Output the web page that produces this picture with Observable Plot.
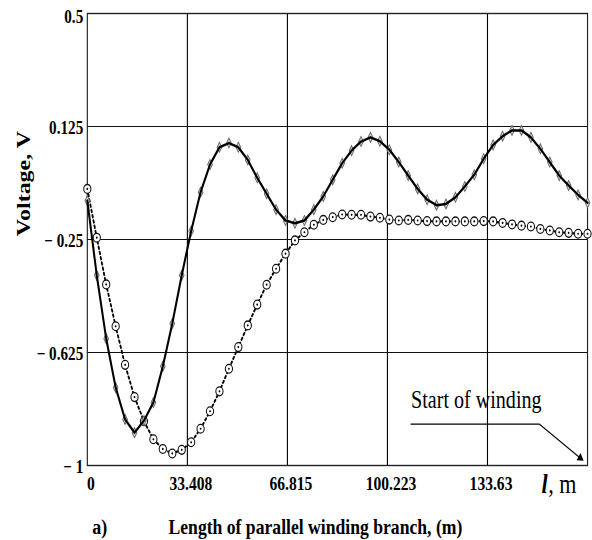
<!DOCTYPE html>
<html><head><meta charset="utf-8">
<script src="https://cdn.jsdelivr.net/npm/d3@7"></script>
<script src="https://cdn.jsdelivr.net/npm/@observablehq/plot@0.6"></script>
<style>
html,body{margin:0;padding:0;background:#fff;overflow:hidden}
#chart{width:592px;height:540px;overflow:hidden}
#chart svg{transform:scaleX(0.82) !important;transform-origin:0 0 !important;display:block;max-width:none !important;width:722px !important;height:540px !important}
</style></head><body><div id="chart"></div>
<script>
// sample positions along the branch (m)
const xs = [0, 3.15, 6.30, 9.46, 12.61, 15.76, 18.91, 22.06, 25.21, 28.37, 31.52, 34.67, 37.82, 40.97, 44.12, 47.28, 50.43, 53.58, 56.73, 59.88, 63.03, 66.19, 69.34, 72.49, 75.64, 78.79, 81.94, 85.10, 88.25, 91.40, 94.55, 97.70, 100.85, 104.01, 107.16, 110.31, 113.46, 116.61, 119.76, 122.92, 126.07, 129.22, 132.37, 135.52, 138.68, 141.83, 144.98, 148.13, 151.28, 154.43, 157.59, 160.74, 163.89, 167.04];
// solid curve with diamonds
const solidV = [-0.121, -0.369, -0.579, -0.741, -0.847, -0.891, -0.851, -0.791, -0.671, -0.529, -0.369, -0.222, -0.093, -0.001, 0.056, 0.070, 0.056, 0.014, -0.045, -0.098, -0.151, -0.187, -0.196, -0.187, -0.151, -0.107, -0.052, 0.003, 0.045, 0.075, 0.089, 0.076, 0.048, 0.007, -0.038, -0.082, -0.118, -0.136, -0.132, -0.110, -0.074, -0.035, 0.018, 0.064, 0.093, 0.112, 0.112, 0.089, 0.051, 0.007, -0.038, -0.071, -0.102, -0.128];
// dotted curve with circles
const dottedV = [-0.082, -0.244, -0.399, -0.538, -0.666, -0.773, -0.853, -0.913, -0.945, -0.960, -0.948, -0.923, -0.878, -0.820, -0.754, -0.679, -0.607, -0.535, -0.466, -0.400, -0.347, -0.297, -0.253, -0.226, -0.201, -0.185, -0.176, -0.167, -0.168, -0.168, -0.174, -0.178, -0.184, -0.187, -0.185, -0.187, -0.189, -0.190, -0.190, -0.190, -0.190, -0.190, -0.189, -0.190, -0.195, -0.200, -0.204, -0.207, -0.215, -0.220, -0.226, -0.228, -0.231, -0.231];

const xDomain = [0, 167.04];
const yDomain = [-1, 0.5];
const xTicks = [0, 33.408, 66.815, 100.223, 133.63];
const xTickLabels = ["0", "33.408", "66.815", "100.223", "133.63"];
const yTicks = [0.5, 0.125, -0.25, -0.625, -1];
const yTickLabels = ["0.5", "0.125", "\u2212 0.25", "\u2212 0.625", "\u2212 1"];

const yTitle = "Voltage, V";
const xUnitItalic = "l";
const xUnitRest = ", m";
const captionLetter = "a)";
const captionText = "Length of parallel winding branch, (m)";

// annotation (data coordinates)
const annotText = [{x: 108.1, y: -0.809, t: "Start of winding"}];
const annotLine = [{x: 108.1, y: -0.863}, {x: 151.0, y: -0.863}, {x: 164.6, y: -0.975}];
const annotHead = [{x: 164.6, y: -0.975}];

const solid = xs.map((x, i) => ({x, v: solidV[i]}));
const dotted = xs.map((x, i) => ({x, v: dottedV[i]}));
const xLab = xTicks.map((v, i) => ({v, label: xTickLabels[i]}));
const yLab = yTicks.map((v, i) => ({v, label: yTickLabels[i]}));

const bold = {fontWeight: "bold"};
const plot = Plot.plot({
  width: 722, height: 540,
  marginLeft: 106, marginRight: 6, marginTop: 13, marginBottom: 75,
  x: {domain: xDomain, axis: null},
  y: {domain: yDomain, axis: null},
  style: {fontFamily: "'Liberation Serif', 'Times New Roman', serif", background: "white", overflow: "visible", color: "black"},
  marks: [
    Plot.ruleX(xTicks.slice(1), {stroke: "#000", strokeWidth: 1.35}),
    Plot.ruleY(yTicks.slice(1, -1), {stroke: "#111", strokeWidth: 1.1}),
    Plot.frame({stroke: "#222", strokeWidth: 1.4}),
    Plot.line(dotted, {x: "x", y: "v", stroke: "black", strokeWidth: 2.2, strokeDasharray: "2.2,3.2"}),
    Plot.dot(dotted, {x: "x", y: "v", r: 4.4, stroke: "#111", fill: "white", strokeWidth: 1.3}),
    Plot.dot(dotted, {x: "x", y: "v", r: 1.1, fill: "black"}),
    Plot.dot(solid, {x: "x", y: "v", symbol: "diamond", r: 3, stroke: "#666", fill: "#ddd", strokeWidth: 1.1}),
    Plot.line(solid, {x: "x", y: "v", stroke: "black", strokeWidth: 2.5}),
    // tick labels
    Plot.text(yLab.slice(0, 1), {y: "v", text: "label", frameAnchor: "left", textAnchor: "end", dx: -5, dy: 4, fontSize: 18.5, ...bold}),
    Plot.text(yLab.slice(1), {y: "v", text: "label", frameAnchor: "left", textAnchor: "end", dx: -5, dy: 2, fontSize: 18.5, ...bold}),
    Plot.text(xLab, {x: "v", text: "label", frameAnchor: "bottom", lineAnchor: "bottom", dx: 4.3, dy: 24, fontSize: 19, ...bold}),
    // axis unit
    Plot.text([xUnitItalic], {text: d => d, frameAnchor: "bottom-right", textAnchor: "start", lineAnchor: "bottom", dx: -56, dy: 27, fontSize: 27, fontWeight: "bold", fontStyle: "italic"}),
    Plot.text([xUnitRest], {text: d => d, frameAnchor: "bottom-right", textAnchor: "start", lineAnchor: "bottom", dx: -48, dy: 27, fontSize: 27}),
    // y title
    Plot.text([yTitle], {text: d => d, frameAnchor: "left", textAnchor: "middle", rotate: -90, dx: -77, dy: -56, fontSize: 24, ...bold}),
    // caption
    Plot.text([captionLetter], {text: d => d, frameAnchor: "bottom-left", textAnchor: "start", lineAnchor: "bottom", dx: 6, dy: 68, fontSize: 22, ...bold}),
    Plot.text([captionText], {text: d => d, frameAnchor: "bottom-left", textAnchor: "start", lineAnchor: "bottom", dx: 99, dy: 68, fontSize: 21.5, ...bold}),
    // annotation
    Plot.text(annotText, {x: "x", y: "y", text: "t", textAnchor: "start", lineAnchor: "bottom", fontSize: 24.5}),
    Plot.line(annotLine, {x: "x", y: "y", stroke: "black", strokeWidth: 1.3}),
    Plot.dot(annotHead, {x: "x", y: "y", symbol: "triangle", r: 3.2, fill: "black", rotate: 124})
  ]
});
document.getElementById("chart").append(plot);
</script>
</body></html>
